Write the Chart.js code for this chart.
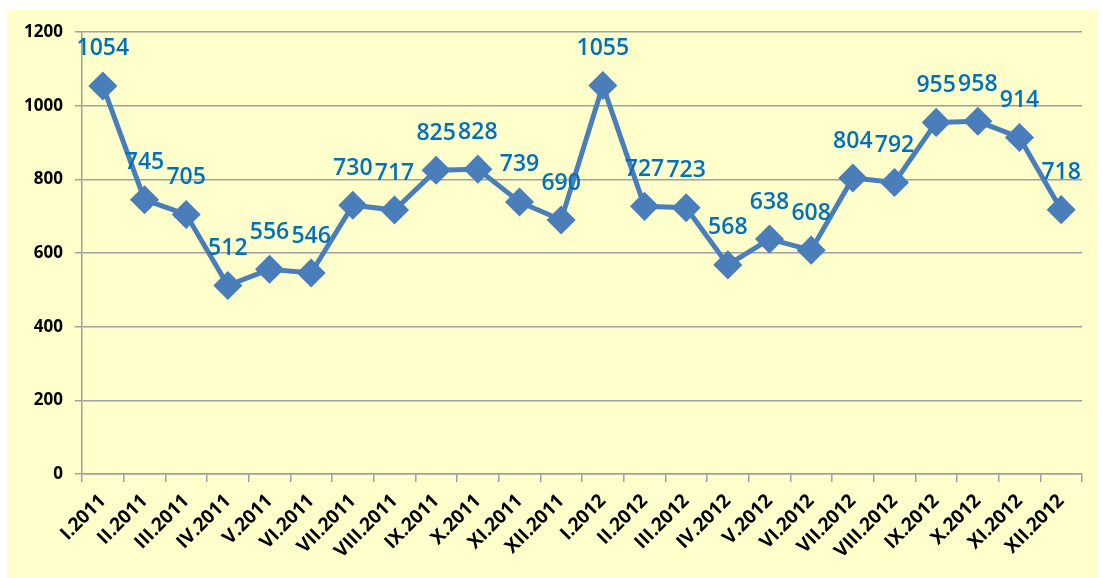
<!DOCTYPE html>
<html>
<head>
<meta charset="utf-8">
<script src="https://cdn.jsdelivr.net/npm/chart.js@4/dist/chart.umd.min.js"></script>
<style>
  html, body { margin: 0; padding: 0; background: #fff; }
  #wrap { position: absolute; left: 7px; top: 10px; width: 1091px; height: 568px; background: #ffffcc; }
</style>
</head>
<body>
<div id="wrap"><canvas id="chart"></canvas></div>
<script>
const months = ['I', 'II', 'III', 'IV', 'V', 'VI', 'VII', 'VIII', 'IX', 'X', 'XI', 'XII'];
const categories = months.map(m => m + '.2011').concat(months.map(m => m + '.2012'));
const values = [1054, 745, 705, 512, 556, 546, 730, 717, 825, 828, 739, 690,
                1055, 727, 723, 568, 638, 608, 804, 792, 955, 958, 914, 718];
const yTicks = [0, 200, 400, 600, 800, 1000, 1200];

const lineColor = '#4a7ebb';
const labelColor = '#0070c0';

// value labels above each marker
const valueLabels = {
    id: 'valueLabels',
    afterDatasetsDraw(chart) {
        const ctx = chart.ctx;
        const meta = chart.getDatasetMeta(0);
        ctx.save();
        ctx.font = '600 23px "Open Sans"';
        ctx.fillStyle = labelColor;
        ctx.textAlign = 'center';
        ctx.textBaseline = 'middle';
        meta.data.forEach((pt, i) => {
            ctx.fillText(String(values[i]), pt.x, pt.y - 37);
        });
        ctx.restore();
    }
};

new Chart(document.getElementById('chart'), {
    type: 'line',
    data: {
        labels: categories,
        datasets: [{
            data: values,
            borderColor: lineColor,
            backgroundColor: lineColor,
            borderWidth: 5,
            pointStyle: 'rectRot',
            pointRadius: 11,
            pointHoverRadius: 11,
            tension: 0
        }]
    },
    options: {
        responsive: true,
        maintainAspectRatio: false,
        animation: false,
        layout: { padding: { left: 0, top: 22, right: 16, bottom: 0 } },
        plugins: {
            legend: { display: false },
            tooltip: { enabled: false }
        },
        scales: {
            x: {
                offset: true,
                grid: {
                    offset: true,
                    drawOnChartArea: false,
                    drawTicks: true,
                    tickLength: 8,
                    color: '#a0a0a0',
                    lineWidth: 1.5
                },
                border: { color: '#a0a0a0', width: 1.5 },
                ticks: {
                    autoSkip: false,
                    maxRotation: 45,
                    minRotation: 45,
                    padding: 8,
                    color: '#000',
                    font: { family: '"Open Sans"', size: 19, weight: 'bold' }
                },
                afterFit(scale) { scale.height = 104; }
            },
            y: {
                min: 0,
                max: 1200,
                afterBuildTicks(scale) { scale.ticks = yTicks.map(v => ({ value: v })); },
                grid: {
                    color: '#a0a0a0',
                    lineWidth: 1.5,
                    tickLength: 7
                },
                border: { color: '#a0a0a0', width: 1.5 },
                ticks: {
                    color: '#000',
                    padding: 12,
                    callback: v => String(v),
                    font: { family: '"Open Sans"', size: 17, weight: 'bold' }
                },
                afterFit(scale) { scale.width = 75; }
            }
        }
    },
    plugins: [valueLabels]
});
</script>
</body>
</html>
